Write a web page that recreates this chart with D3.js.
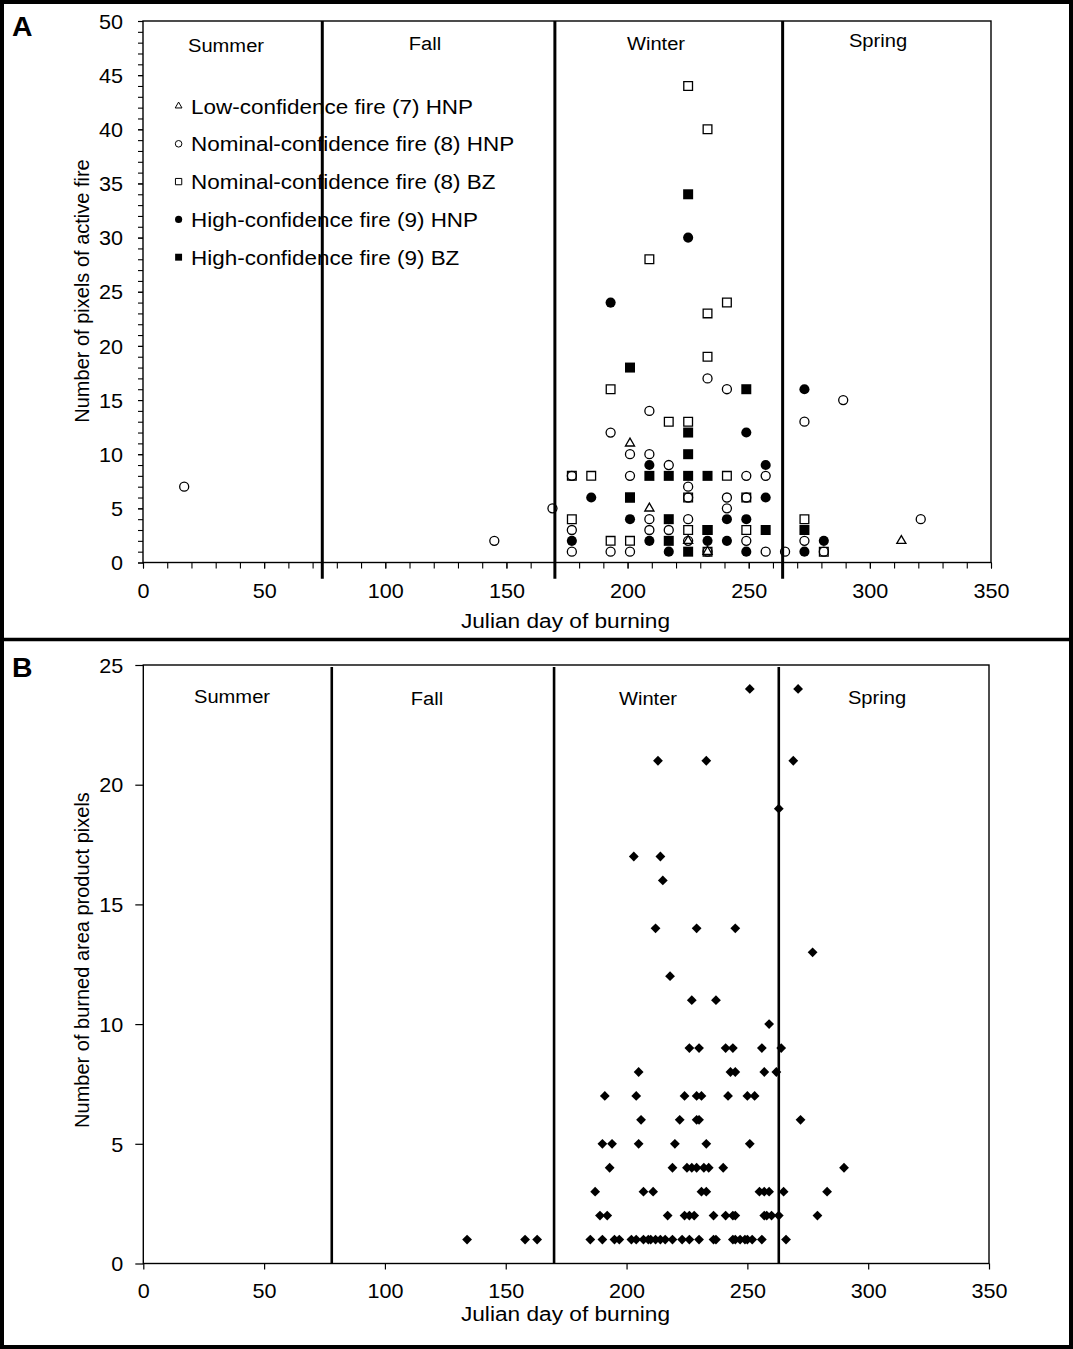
<!DOCTYPE html>
<html><head><meta charset="utf-8">
<script src="https://cdn.jsdelivr.net/npm/d3@7"></script>
<style>body{margin:0;background:#fff}svg{display:block}</style>
</head><body>
<svg id="c" width="1073" height="1349"></svg>
<script>
// ---------------- DATA ----------------
const seasons = ["Summer", "Fall", "Winter", "Spring"];
const seasonBoundsA = [74, 170, 264];
const seasonBoundsB = [78, 170, 263];
const xTickValues = [0, 50, 100, 150, 200, 250, 300, 350];
const yTickValuesA = [0, 5, 10, 15, 20, 25, 30, 35, 40, 45, 50];
const yTickValuesB = [0, 5, 10, 15, 20, 25];
const legendLabels = [
  "Low-confidence fire (7) HNP",
  "Nominal-confidence fire (8) HNP",
  "Nominal-confidence fire (8) BZ",
  "High-confidence fire (9) HNP",
  "High-confidence fire (9) BZ"
];
// [Julian day, number of pixels]
const lowHNP = [[201,11],[209,5],[225,2],[233,1],[313,2]];
const nominalHNP = [[17,7],[145,2],[169,5],[177,8],[177,3],[177,1],[193,12],[193,1],[201,10],[201,8],[201,1],
  [209,14],[209,10],[209,4],[209,3],[217,9],[217,3],[225,7],[225,6],[225,4],[225,2],[233,17],[233,1],
  [241,16],[241,6],[241,5],[249,8],[249,6],[249,2],[257,8],[257,1],[265,1],[273,13],[273,2],[281,1],[289,15],[321,4]];
const nominalBZ = [[177,8],[177,4],[185,8],[193,16],[193,2],[201,6],[201,2],[209,28],[217,13],[225,44],[225,13],[225,6],[225,3],
  [233,40],[233,23],[233,19],[233,3],[233,1],[241,24],[241,8],[249,6],[249,3],[273,4],[281,1]];
const highHNP = [[177,2],[185,6],[193,24],[201,4],[209,9],[209,2],[217,1],[225,30],[233,2],[241,4],[241,2],
  [249,12],[249,4],[249,1],[257,9],[257,6],[273,16],[273,1],[281,2]];
const highBZ = [[201,18],[201,6],[209,8],[217,8],[217,4],[217,2],[225,34],[225,12],[225,10],[225,8],[225,1],
  [233,8],[233,3],[249,16],[257,3],[273,3]];
// Panel B: [Julian day, burned area product pixels]
const burnedArea = [
  [134,1],[158,1],[163,1],[185,1],[190,1],[195,1],[197,1],[202,1],[204,1],[207,1],[209,1],[210,1],[212,1],[214,1],
  [216,1],[219,1],[223,1],[226,1],[230,1],[236,1],[237,1],[244,1],[245,1],[247,1],[249,1],[250,1],[252,1],[256,1],[266,1],
  [189,2],[192,2],[217,2],[224,2],[226,2],[228,2],[236,2],[241,2],[244,2],[245,2],[257,2],[258,2],[260,2],[263,2],[279,2],
  [187,3],[207,3],[211,3],[231,3],[233,3],[255,3],[257,3],[259,3],[265,3],[283,3],
  [193,4],[219,4],[225,4],[227,4],[229,4],[232,4],[234,4],[240,4],[290,4],
  [190,5],[194,5],[205,5],[220,5],[233,5],[251,5],
  [206,6],[222,6],[229,6],[230,6],[272,6],
  [191,7],[204,7],[224,7],[229,7],[231,7],[242,7],[250,7],[253,7],
  [205,8],[243,8],[245,8],[257,8],[262,8],
  [226,9],[230,9],[241,9],[244,9],[256,9],[264,9],
  [259,10],[227,11],[237,11],[218,12],[277,13],
  [212,14],[229,14],[245,14],[215,16],[203,17],[214,17],[263,19],
  [213,21],[233,21],[269,21],[251,24],[271,24]
];

// ---------------- LAYOUT ----------------
const FONT = "Arial, 'Liberation Sans', Helvetica, sans-serif";
const SX = 1.08; // horizontal stretch of reference text
const PA = {left:143, right:991, top:21, bottom:562.5};
const PB = {left:143.3, right:989, top:665, bottom:1263.5};
const seasonLabelPosA = [[226,52],[425,50],[656,50],[878,47]];
const seasonLabelPosB = [[232,703],[427,705],[648,705],[877,704]];

const svg = d3.select("#c");
svg.append("rect").attr("width",1073).attr("height",1349).attr("fill","#fff");

function txt(g, x, y, s, size, anchor, weight, sx) {
  return g.append("text")
    .attr("transform", `translate(${x},${y}) scale(${sx||SX},1)`)
    .attr("text-anchor", anchor || "start")
    .attr("font-family", FONT).attr("font-size", size)
    .attr("font-weight", weight || "normal").attr("fill", "#000")
    .text(s);
}

// ---------------- PANEL A ----------------
const xA = d3.scaleLinear().domain([0,350]).range([PA.left, PA.right]);
const yA = d3.scaleLinear().domain([0,50]).range([PA.bottom, PA.top]);
const gA = svg.append("g");

gA.append("rect").attr("x",PA.left).attr("y",PA.top)
  .attr("width",PA.right-PA.left).attr("height",PA.bottom-PA.top)
  .attr("fill","none").attr("stroke","#000").attr("stroke-width",1.4);

// minor ticks
gA.append("g").attr("transform",`translate(0,${PA.bottom})`)
  .call(d3.axisBottom(xA).tickValues(d3.range(0,351,10)).tickSize(6).tickSizeOuter(0).tickFormat(""))
  .call(g=>g.select(".domain").remove());
gA.append("g").attr("transform",`translate(${PA.left},0)`)
  .call(d3.axisLeft(yA).tickValues(d3.range(0,51,1)).tickSize(5).tickSizeOuter(0).tickFormat(""))
  .call(g=>g.select(".domain").remove());
// major ticks + labels
const axAx = gA.append("g").attr("transform",`translate(0,${PA.bottom})`)
  .call(d3.axisBottom(xA).tickValues(xTickValues).tickSize(6).tickSizeOuter(0));
const axAy = gA.append("g").attr("transform",`translate(${PA.left},0)`)
  .call(d3.axisLeft(yA).tickValues(yTickValuesA).tickSize(5).tickSizeOuter(0));
[axAx, axAy].forEach(a=>{a.select(".domain").remove();});
gA.selectAll(".tick line").attr("stroke","#000").attr("stroke-width",1.1);
axAx.selectAll("text").attr("y",36).attr("dy",0).attr("font-size",20).attr("font-family",FONT)
  .attr("transform",`scale(${SX},1)`).attr("fill","#000");
axAy.selectAll("text").attr("x",-20/SX).attr("dy","0.36em").attr("font-size",20).attr("font-family",FONT)
  .attr("transform",`scale(${SX},1)`).attr("fill","#000");

// season lines
gA.selectAll(".season").data(seasonBoundsA).join("line")
  .attr("x1",d=>xA(d)).attr("x2",d=>xA(d))
  .attr("y1",yA(50)).attr("y2",yA(-1.5))
  .attr("stroke","#000").attr("stroke-width",3);
seasons.forEach((s,i)=>txt(gA, seasonLabelPosA[i][0], seasonLabelPosA[i][1], s, 19, "middle", null, 1.06));

// series
const seriesA = [
  {data:lowHNP, type:d3.symbolTriangle, filled:false, size:36, lsize:20},
  {data:nominalHNP, type:d3.symbolCircle, filled:false, size:64, lsize:34},
  {data:nominalBZ, type:d3.symbolSquare, filled:false, size:76, lsize:40},
  {data:highHNP, type:d3.symbolCircle, filled:true, size:80, lsize:40},
  {data:highBZ, type:d3.symbolSquare, filled:true, size:100, lsize:48}
];
seriesA.forEach(s=>{
  gA.append("g").selectAll("path").data(s.data).join("path")
    .attr("d", d3.symbol().type(s.type).size(s.size)())
    .attr("transform", d=>`translate(${xA(d[0])},${yA(d[1])})`)
    .attr("fill", s.filled ? "#000" : "none")
    .attr("stroke", "#000").attr("stroke-width", s.filled ? 0 : 1.3);
});

// legend
const legY0 = 106, legStep = 37.8;
legendLabels.forEach((lab,i)=>{
  const s = seriesA[i];
  const cy = legY0 + i*legStep;
  gA.append("path").attr("d", d3.symbol().type(s.type).size(s.lsize)())
    .attr("transform",`translate(178.6,${cy})`)
    .attr("fill", s.filled ? "#000" : "none").attr("stroke","#000").attr("stroke-width", s.filled?0:1);
  txt(gA, 191, cy+7.5, lab, 21, "start", null, 1.07);
});

// axis titles
txt(gA, 565.5, 628, "Julian day of burning", 21, "middle", null, 1.08);
gA.append("text").attr("transform","translate(89,291) rotate(-90)")
  .attr("text-anchor","middle").attr("font-family",FONT).attr("font-size",20).text("Number of pixels of active fire");

// ---------------- PANEL B ----------------
const xB = d3.scaleLinear().domain([0,350]).range([PB.left, PB.right]);
const yB = d3.scaleLinear().domain([0,25]).range([PB.bottom, PB.top]);
const gB = svg.append("g");
gB.append("rect").attr("x",PB.left).attr("y",PB.top)
  .attr("width",PB.right-PB.left).attr("height",PB.bottom-PB.top)
  .attr("fill","none").attr("stroke","#000").attr("stroke-width",1.4);
const axBx = gB.append("g").attr("transform",`translate(0,${PB.bottom})`)
  .call(d3.axisBottom(xB).tickValues(xTickValues).tickSize(6).tickSizeOuter(0));
const axBy = gB.append("g").attr("transform",`translate(${PB.left},0)`)
  .call(d3.axisLeft(yB).tickValues(yTickValuesB).tickSize(8).tickSizeOuter(0));
[axBx, axBy].forEach(a=>{a.select(".domain").remove(); a.selectAll("line").attr("stroke","#000").attr("stroke-width",1.2);});
axBx.selectAll("text").attr("y",35).attr("dy",0).attr("font-size",20).attr("font-family",FONT)
  .attr("transform",`scale(${SX},1)`).attr("fill","#000");
axBy.selectAll("text").attr("x",-20/SX).attr("dy","0.36em").attr("font-size",20).attr("font-family",FONT)
  .attr("transform",`scale(${SX},1)`).attr("fill","#000");

gB.selectAll(".season").data(seasonBoundsB).join("line")
  .attr("x1",d=>xB(d)).attr("x2",d=>xB(d))
  .attr("y1",yB(24.92)).attr("y2",yB(0))
  .attr("stroke","#000").attr("stroke-width",2.6);
seasons.forEach((s,i)=>txt(gB, seasonLabelPosB[i][0], seasonLabelPosB[i][1], s, 19, "middle", null, 1.06));

gB.append("g").selectAll("path").data(burnedArea).join("path")
  .attr("d", d3.symbol().type(d3.symbolSquare).size(48)())
  .attr("transform", d=>`translate(${xB(d[0])},${yB(d[1])}) rotate(45)`)
  .attr("fill","#000");

txt(gB, 565.5, 1321, "Julian day of burning", 21, "middle", null, 1.08);
gB.append("text").attr("transform","translate(89,960) rotate(-90)")
  .attr("text-anchor","middle").attr("font-family",FONT).attr("font-size",20).text("Number of burned area product pixels");

// ---------------- FRAME ----------------
svg.append("rect").attr("x",2).attr("y",2).attr("width",1069).attr("height",1345)
  .attr("fill","none").attr("stroke","#000").attr("stroke-width",4);
svg.append("line").attr("x1",0).attr("x2",1073).attr("y1",639.5).attr("y2",639.5)
  .attr("stroke","#000").attr("stroke-width",3.5);
txt(svg, 12, 36, "A", 27, "start", "bold", 1.05);
txt(svg, 12, 677, "B", 27, "start", "bold", 1.05);
</script>
</body></html>
